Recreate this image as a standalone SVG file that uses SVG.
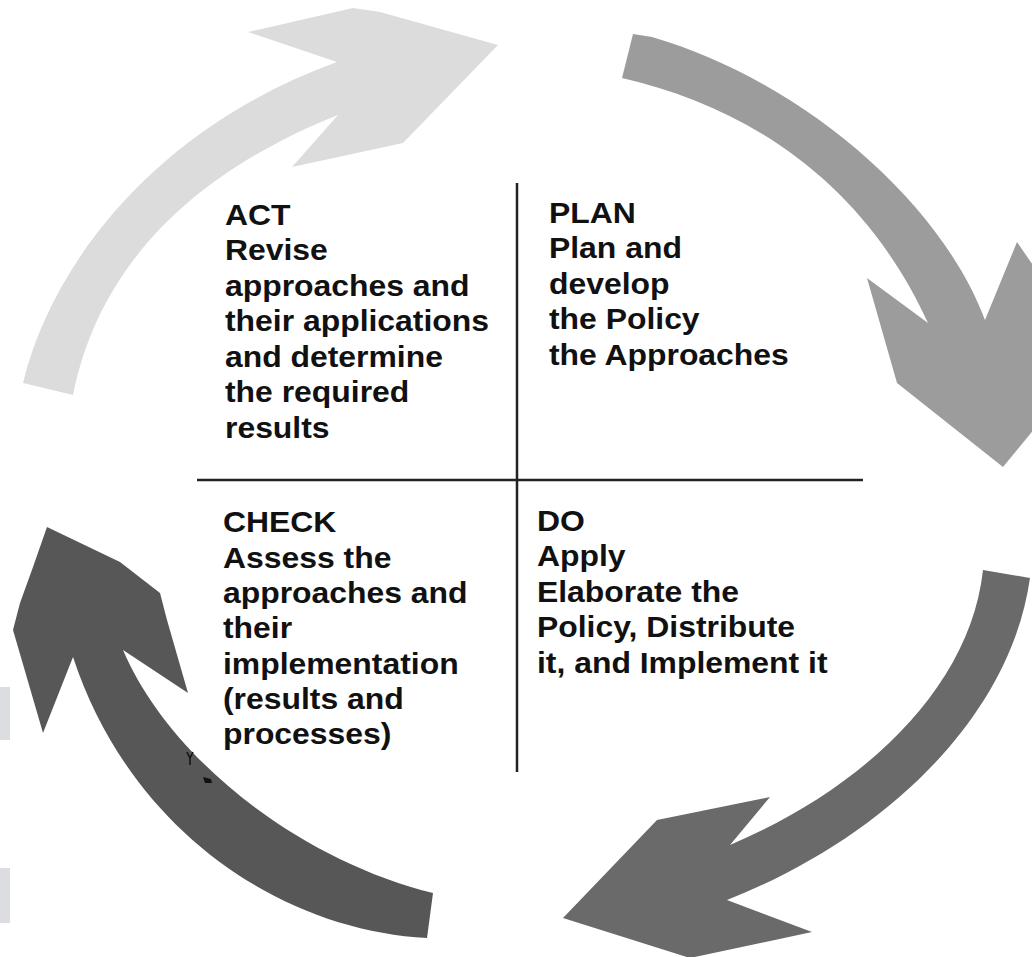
<svg xmlns="http://www.w3.org/2000/svg" width="1032" height="957" viewBox="0 0 1032 957">
  <style>
    .lbl { font-family: "Liberation Sans", Arial, sans-serif; font-weight: bold; font-size: 29px; fill: #111; }
    .divider { stroke: #222; stroke-width: 2.5; fill: none; }
    .mark { fill: #dcdde0; }
  </style>

  <rect width="1032" height="957" fill="#ffffff"/>

  <!-- edge fragments at the left border -->
  <rect class="mark" x="0" y="687" width="10" height="53"/>
  <rect class="mark" x="0" y="868" width="10" height="55"/>

  <!-- curved cycle arrows: ACT -> PLAN -> DO -> CHECK -> ACT -->
  <g id="connectors">
    <path id="arrow-act" fill="#dcdcdc"
      d="M23,383 C50,270 150,130 337,62 L248,32 L353,8 L380,12 L498,45 L403,143 L292,167 L338,115 C200,170 100,260 73,395 Z"/>
    <path id="arrow-plan" fill="#9c9c9c"
      d="M633,34 L652,37 C800,80 940,200 985,320 L1017,242 L1050,290 L1050,410 L1003,467 L897,383 L867,278 L928,323 C860,175 740,105 622,78 Z"/>
    <path id="arrow-do" fill="#6a6a6a"
      d="M983,570 L1030,578 C1010,720 880,840 727,900 L812,932 L690,958 L563,918 L657,820 L770,797 L730,845 C860,790 970,690 983,570 Z"/>
    <path id="arrow-check" fill="#575757"
      d="M433,893 L427,938 C280,930 130,830 73,657 L43,733 L13,630 L20,603 L33,567 L47,527 L120,562 L160,593 L167,620 L188,693 L123,650 C170,760 300,860 433,893 Z"/>
    <!-- small dark specks on the CHECK arrow -->
    <path d="M187,752 L190,758 L193,752 M190,758 L190,765" stroke="#111" stroke-width="1.5" fill="none"/>
    <path d="M203,777 L211,779 L212,783 L205,783 Z" fill="#111"/>
  </g>

  <!-- quadrant dividers -->
  <g id="dividers">
    <line class="divider" x1="517" y1="183" x2="517" y2="772"/>
    <line class="divider" x1="197" y1="480" x2="863" y2="480"/>
  </g>

  <g id="act" transform="translate(225,0) scale(1.1,1)">
    <text class="lbl">
      <tspan x="0" y="225">ACT</tspan>
      <tspan x="0" y="260.5">Revise</tspan>
      <tspan x="0" y="296">approaches and</tspan>
      <tspan x="0" y="331.5">their applications</tspan>
      <tspan x="0" y="367">and determine</tspan>
      <tspan x="0" y="402.5">the required</tspan>
      <tspan x="0" y="438">results</tspan>
    </text>
  </g>

  <g id="plan" transform="translate(549,0) scale(1.1,1)">
    <text class="lbl">
      <tspan x="0" y="223">PLAN</tspan>
      <tspan x="0" y="258.5">Plan and</tspan>
      <tspan x="0" y="294">develop</tspan>
      <tspan x="0" y="329.5">the Policy</tspan>
      <tspan x="0" y="365">the Approaches</tspan>
    </text>
  </g>

  <g id="check" transform="translate(223,0) scale(1.1,1)">
    <text class="lbl">
      <tspan x="0" y="532.5">CHECK</tspan>
      <tspan x="0" y="568">Assess the</tspan>
      <tspan x="0" y="603">approaches and</tspan>
      <tspan x="0" y="638.5">their</tspan>
      <tspan x="0" y="674">implementation</tspan>
      <tspan x="0" y="709.5">(results and</tspan>
      <tspan x="0" y="744">processes)</tspan>
    </text>
  </g>

  <g id="do" transform="translate(537,0) scale(1.1,1)">
    <text class="lbl">
      <tspan x="0" y="531">DO</tspan>
      <tspan x="0" y="566.5">Apply</tspan>
      <tspan x="0" y="602">Elaborate the</tspan>
      <tspan x="0" y="637">Policy, Distribute</tspan>
      <tspan x="0" y="673">it, and Implement it</tspan>
    </text>
  </g>
</svg>
